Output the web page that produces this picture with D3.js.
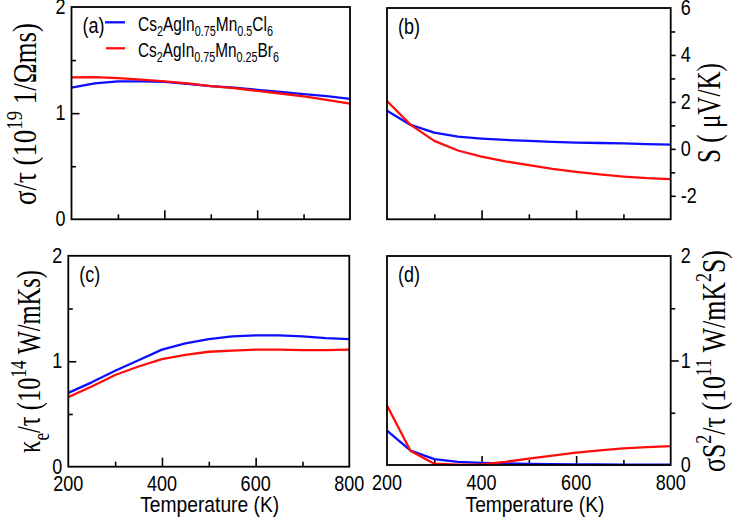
<!DOCTYPE html>
<html>
<head>
<meta charset="utf-8">
<script src="https://cdn.jsdelivr.net/npm/d3@7"></script>
<style>
  html, body { margin: 0; padding: 0; background: #fff; }
  svg { display: block; }
</style>
</head>
<body>
<script>
// ---------------- DATA ----------------
const temps = [200, 250, 300, 350, 400, 450, 500, 550, 600, 650, 700, 750, 800];

const sigmaCl = [1.24, 1.28, 1.30, 1.30, 1.295, 1.275, 1.255, 1.24, 1.22, 1.20, 1.18, 1.16, 1.135];
const sigmaBr = [1.337, 1.34, 1.33, 1.315, 1.30, 1.28, 1.255, 1.235, 1.21, 1.185, 1.157, 1.125, 1.09];

const seebeckCl = [1.62, 1.02, 0.69, 0.52, 0.44, 0.38, 0.34, 0.30, 0.27, 0.25, 0.23, 0.20, 0.18];
const seebeckBr = [2.04, 1.02, 0.34, -0.07, -0.33, -0.53, -0.69, -0.85, -0.98, -1.09, -1.18, -1.25, -1.29];

const kappaCl = [0.70, 0.80, 0.91, 1.01, 1.11, 1.17, 1.21, 1.235, 1.245, 1.245, 1.235, 1.22, 1.21];
const kappaBr = [0.66, 0.76, 0.87, 0.95, 1.02, 1.06, 1.09, 1.10, 1.11, 1.11, 1.105, 1.105, 1.11];

const pfCl = [0.33, 0.137, 0.057, 0.03, 0.02, 0.015, 0.01, 0.008, 0.006, 0.005, 0.004, 0.003, 0.003];
const pfBr = [0.57, 0.134, 0.013, 0.003, 0.006, 0.03, 0.06, 0.09, 0.118, 0.14, 0.16, 0.172, 0.18];

const xMajorTicks = [200, 400, 600, 800];
const xMinorTicks = [300, 500, 700];
const yTicks01 = [0, 1, 2];
const yMinor01 = [0.5, 1.5];
const yTicksS = [-2, 0, 2, 4, 6];
const yMinorS = [-1, 1, 3, 5];

const legendCl = [["Cs", "n"], ["2", "sub"], ["AgIn", "n"], ["0.75", "sub"], ["Mn", "n"], ["0.5", "sub"], ["Cl", "n"], ["6", "sub"]];
const legendBr = [["Cs", "n"], ["2", "sub"], ["AgIn", "n"], ["0.75", "sub"], ["Mn", "n"], ["0.25", "sub"], ["Br", "n"], ["6", "sub"]];

const labelA = [["σ/τ (10", "n"], ["19", "sup"], [" 1/Ωms)", "n"]];
const labelB = [["S ( μV/K)", "n"]];
const labelC = [["κ", "n"], ["e", "sub"], ["/τ (10", "n"], ["14", "sup"], [" W/mKs)", "n"]];
const labelD = [["σS", "n"], ["2", "sup"], ["/τ (10", "n"], ["11", "sup"], [" W/mK", "n"], ["2", "sup"], ["S)", "n"]];
const xTitle = "Temperature (K)";

const BLUE = "#0d0dff";
const RED = "#ff0d0d";

// ---------------- DRAW ----------------
const W = 732, H = 524;
const svg = d3.select("body").append("svg").attr("width", W).attr("height", H);

const SANS = "'Liberation Sans', Arial, Helvetica, sans-serif";
const SERIF = "'Liberation Serif', 'Times New Roman', serif";

// text helper: parts with sub/sup; optional fit to target length; vertical stretch sy
function richText(x, y, rot, anchor, parts, size, family, sy, targetLen) {
  const g = svg.append("g").attr("transform", `translate(${x},${y}) rotate(${rot})`);
  const t = g.append("text")
    .attr("x", 0).attr("y", 0)
    .attr("font-family", family)
    .attr("font-size", size)
    .attr("text-anchor", anchor)
    .attr("fill", "#000");
  let cur = 0;
  parts.forEach(([s, type]) => {
    let off = 0, fs = size;
    if (type === "sub") { off = size * 0.28; fs = size * 0.7; }
    if (type === "sup") { off = -size * 0.42; fs = size * 0.7; }
    t.append("tspan").attr("font-size", fs).attr("dy", off - cur).text(s);
    cur = off;
  });
  let sx = 1;
  if (targetLen) {
    const len = t.node().getComputedTextLength();
    if (len > 0) sx = targetLen / len;
  }
  t.attr("transform", `scale(${sx},${sy})`);
  return t;
}

function panel(cfg) {
  const x = d3.scaleLinear().domain([200, 800]).range([cfg.left, cfg.right]);
  const y = d3.scaleLinear().domain(cfg.ydom).range([cfg.bottom, cfg.top]);
  const g = svg.append("g");

  // x ticks (inside, pointing up)
  const xMaj = d3.axisBottom(x).tickValues(xMajorTicks.filter(v => v > 200 && v < 800)).tickSize(-9).tickFormat("");
  const xMin = d3.axisBottom(x).tickValues(xMinorTicks).tickSize(-5).tickFormat("");
  [xMaj, xMin].forEach(ax => {
    const a = g.append("g").attr("transform", `translate(0,${cfg.bottom})`).call(ax);
    a.select(".domain").remove();
    a.selectAll("line").attr("stroke", "#000").attr("stroke-width", 1.6);
  });

  // y ticks (inside)
  const side = cfg.ySide;
  const axFn = side === "left" ? d3.axisLeft : d3.axisRight;
  const sgn = side === "left" ? -1 : 1;
  const yMaj = axFn(y).tickValues(cfg.yMajor.filter(v => v > cfg.ydom[0] && v < cfg.ydom[1])).tickSize(sgn * (cfg.yMajLen || 8)).tickFormat("");
  const yMin = axFn(y).tickValues(cfg.yMinor).tickSize(sgn * 4.5).tickFormat("");
  [yMaj, yMin].forEach(ax => {
    const a = g.append("g").attr("transform", `translate(${side === "left" ? cfg.left : cfg.right},0)`).call(ax);
    a.select(".domain").remove();
    a.selectAll("line").attr("stroke", "#000").attr("stroke-width", 1.6);
  });

  // lines
  const line = d3.line().x((d, i) => x(temps[i])).y(d => y(d)).curve(d3.curveLinear);
  cfg.series.forEach(s => {
    g.append("path").datum(s.values)
      .attr("d", line)
      .attr("fill", "none")
      .attr("stroke", s.color)
      .attr("stroke-width", 2.3)
      .attr("stroke-linejoin", "round");
  });

  // frame
  g.append("rect")
    .attr("x", cfg.left).attr("y", cfg.top)
    .attr("width", cfg.right - cfg.left).attr("height", cfg.bottom - cfg.top)
    .attr("fill", "none").attr("stroke", "#000").attr("stroke-width", 1.8);

  // y tick labels
  cfg.yMajor.forEach(v => {
    const lx = side === "left" ? cfg.left - 6 : cfg.right + 10;
    richText(lx, y(v) + 7, 0, side === "left" ? "end" : "start", [[String(v), "n"]], 18, SANS, 1.2);
  });

  // x tick labels
  if (cfg.xLabels) {
    xMajorTicks.forEach(v => {
      richText(x(v), cfg.bottom + 24.5, 0, "middle", [[String(v), "n"]], 18, SANS, 1.2);
    });
    richText(cfg.xTitleX, 511.7, 0, "middle", [[xTitle, "n"]], 19, SANS, 1.2, 139);
  }

  // panel letter
  richText(cfg.left + 11, cfg.top + 26, 0, "start", [[cfg.tag, "n"]], 18, SANS, 1.22);

  return { x, y };
}

panel({
  left: 71.5, right: 350, top: 7, bottom: 219.3, ydom: [0, 2],
  yMajor: yTicks01, yMinor: yMinor01, ySide: "left", tag: "(a)",
  series: [{ values: sigmaCl, color: BLUE }, { values: sigmaBr, color: RED }]
});
panel({
  left: 387, right: 670.7, top: 8, bottom: 219.3, ydom: [-3, 6],
  yMajor: yTicksS, yMinor: yMinorS, ySide: "right", yMajLen: 5, tag: "(b)",
  series: [{ values: seebeckCl, color: BLUE }, { values: seebeckBr, color: RED }]
});
panel({
  left: 68.3, right: 349.3, top: 255.8, bottom: 466.7, ydom: [0, 2],
  yMajor: yTicks01, yMinor: yMinor01, ySide: "left", tag: "(c)", xLabels: true, xTitleX: 209.7,
  series: [{ values: kappaCl, color: BLUE }, { values: kappaBr, color: RED }]
});
panel({
  left: 387, right: 670.7, top: 256, bottom: 465, ydom: [0, 2],
  yMajor: yTicks01, yMinor: yMinor01, ySide: "right", tag: "(d)", xLabels: true, xTitleX: 535,
  series: [{ values: pfCl, color: BLUE }, { values: pfBr, color: RED }]
});

// legend
svg.append("line").attr("x1", 105).attr("x2", 125).attr("y1", 22.3).attr("y2", 22.3)
  .attr("stroke", BLUE).attr("stroke-width", 2.3);
svg.append("line").attr("x1", 106).attr("x2", 125).attr("y1", 48.3).attr("y2", 48.3)
  .attr("stroke", RED).attr("stroke-width", 2.3);
richText(138, 30.5, 0, "start", legendCl, 16, SANS, 1.3, 135);
richText(138, 56.5, 0, "start", legendBr, 16, SANS, 1.3, 141);

// axis titles (rotated)
richText(36, 114, -90, "middle", labelA, 30, SERIF, 1.1, 182);
richText(720, 113, -90, "middle", labelB, 30, SERIF, 1.1, 100);
richText(40, 361.5, -90, "middle", labelC, 30, SERIF, 1.1, 183);
richText(725, 361, -90, "middle", labelD, 30, SERIF, 1.1, 222);
</script>
</body>
</html>
